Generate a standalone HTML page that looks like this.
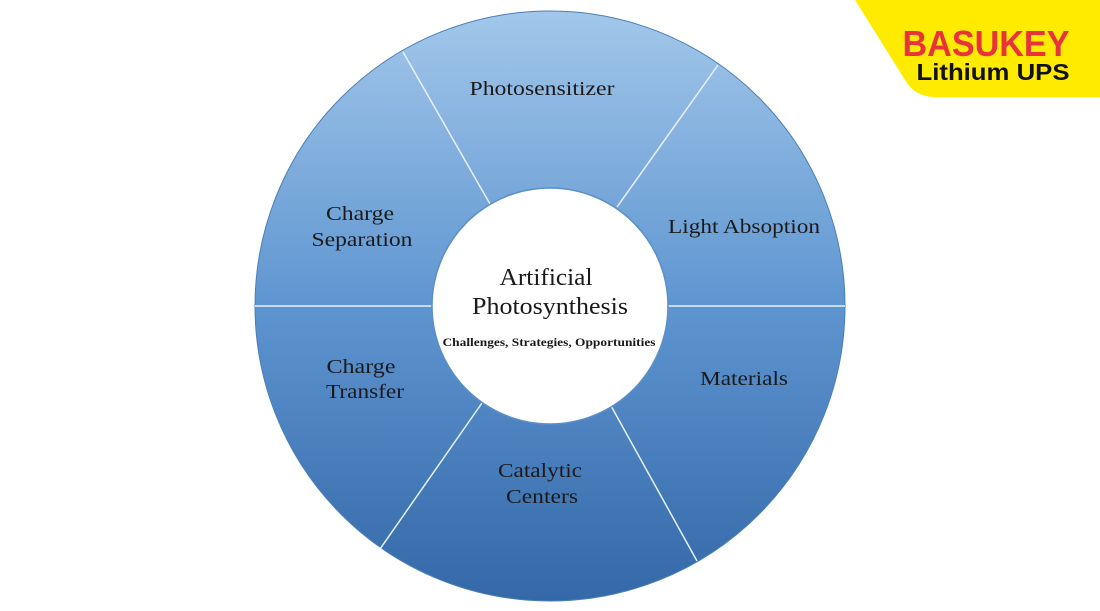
<!DOCTYPE html>
<html><head><style>
body{margin:0;background:#fff;width:1100px;height:611px;overflow:hidden;position:relative;font-family:"Liberation Sans",sans-serif}
svg{position:absolute;left:0;top:0}
</style></head><body>
<svg width="1100" height="611" viewBox="0 0 1100 611">
<defs>
<linearGradient id="g" x1="0" y1="0" x2="0" y2="1">
<stop offset="0" stop-color="#a2c7ea"/>
<stop offset="0.5" stop-color="#5e95d0"/>
<stop offset="1" stop-color="#3468a8"/>
</linearGradient>
</defs>
<circle cx="550" cy="306" r="295" fill="url(#g)" stroke="#4a7fb8" stroke-width="1"/>
<g stroke="#e8f0fa" stroke-width="1.5">
<line x1="255" y1="306" x2="433" y2="306"/>
<line x1="667" y1="306" x2="845" y2="306"/>
<line x1="490" y1="204" x2="403" y2="52"/>
<line x1="617" y1="207" x2="718" y2="65"/>
<line x1="482" y1="403" x2="380" y2="549"/>
<line x1="610" y1="404" x2="697" y2="561"/>
</g>
<circle cx="550" cy="306" r="118" fill="#fff" stroke="#5b8fc8" stroke-width="1.5"/>
<g font-family="Liberation Serif,serif" fill="#1a1a1a" text-anchor="middle" font-size="20" lengthAdjust="spacingAndGlyphs">
<text x="542" y="95" textLength="145" lengthAdjust="spacingAndGlyphs">Photosensitizer</text>
<text x="360" y="220" textLength="68" lengthAdjust="spacingAndGlyphs">Charge</text>
<text x="362" y="246" textLength="101" lengthAdjust="spacingAndGlyphs">Separation</text>
<text x="744" y="233" textLength="152" lengthAdjust="spacingAndGlyphs">Light Absoption</text>
<text x="361" y="373" textLength="69" lengthAdjust="spacingAndGlyphs">Charge</text>
<text x="365" y="398" textLength="78" lengthAdjust="spacingAndGlyphs">Transfer</text>
<text x="744" y="385" textLength="88" lengthAdjust="spacingAndGlyphs">Materials</text>
<text x="540" y="477" textLength="84" lengthAdjust="spacingAndGlyphs">Catalytic</text>
<text x="542" y="503" textLength="72" lengthAdjust="spacingAndGlyphs">Centers</text>
<text x="546" y="285" font-size="24" textLength="93" lengthAdjust="spacingAndGlyphs">Artificial</text>
<text x="550" y="314" font-size="24" textLength="156" lengthAdjust="spacingAndGlyphs">Photosynthesis</text>
<text x="549" y="346" font-size="11.5" font-weight="bold" textLength="213" lengthAdjust="spacingAndGlyphs">Challenges, Strategies, Opportunities</text>
</g>
<path d="M855 0 H1100 V97 H935 Q915 97 905 80 Z" fill="#ffeb00"/>
<text x="986" y="56" text-anchor="middle" font-family="Liberation Sans,sans-serif" font-weight="bold" font-size="36" fill="#e8333b" textLength="167" lengthAdjust="spacingAndGlyphs">BASUKEY</text>
<text x="993" y="80" text-anchor="middle" font-family="Liberation Sans,sans-serif" font-weight="bold" font-size="23" fill="#111" textLength="153" lengthAdjust="spacingAndGlyphs">Lithium UPS</text>
</svg>
</body></html>
